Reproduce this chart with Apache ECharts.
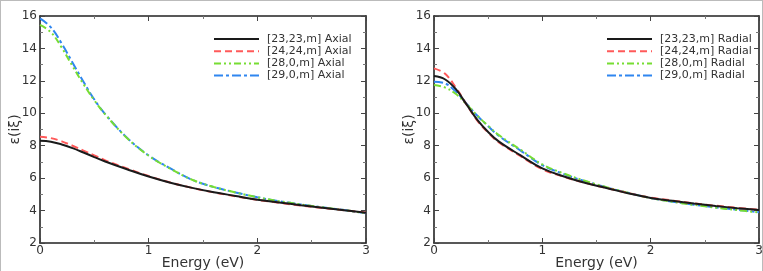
<!DOCTYPE html>
<html><head><meta charset="utf-8">
<script src="https://cdn.jsdelivr.net/npm/echarts@6/dist/echarts.min.js"></script>
<style>html,body{margin:0;padding:0;background:#fff}#c{width:763px;height:271px}#f{position:absolute;left:0;top:0;width:761px;height:271px;border:1px solid #bbb;border-bottom:none;pointer-events:none}</style>
</head><body><div id="c"></div><div id="f"></div>
<script>
const energy = [0, 0.1, 0.2, 0.3, 0.4, 0.5, 0.6, 0.8, 1.0, 1.2, 1.4, 1.6, 1.8, 2.0, 2.2, 2.4, 2.6, 2.8, 3.0];
const xTicks = [0, 1, 2, 3];
const yTicks = [2, 4, 6, 8, 10, 12, 14, 16];

const axialNames = ['[23,23,m] Axial', '[24,24,m] Axial', '[28,0,m] Axial', '[29,0,m] Axial'];
const axial23 = [8.31, 8.25, 8.08, 7.85, 7.58, 7.30, 7.03, 6.55, 6.10, 5.72, 5.40, 5.13, 4.90, 4.67, 4.50, 4.33, 4.18, 4.02, 3.87];
const axial24 = [8.55, 8.47, 8.27, 8.00, 7.70, 7.40, 7.10, 6.60, 6.13, 5.73, 5.40, 5.12, 4.88, 4.66, 4.48, 4.31, 4.16, 4.02, 3.88];
const axial28 = [15.45, 15.00, 14.05, 12.90, 11.80, 10.80, 9.93, 8.48, 7.38, 6.58, 5.90, 5.45, 5.12, 4.82, 4.58, 4.38, 4.20, 4.03, 3.83];
const axial29 = [15.85, 15.30, 14.30, 13.12, 11.95, 10.85, 9.95, 8.50, 7.40, 6.60, 5.90, 5.45, 5.12, 4.82, 4.58, 4.38, 4.20, 4.03, 3.83];

const radialNames = ['[23,23,m] Radial', '[24,24,m] Radial', '[28,0,m] Radial', '[29,0,m] Radial'];
const radial23 = [12.30, 12.10, 11.50, 10.55, 9.60, 8.85, 8.25, 7.40, 6.60, 6.10, 5.70, 5.38, 5.05, 4.78, 4.60, 4.43, 4.28, 4.15, 4.03];
const radial24 = [12.77, 12.45, 11.60, 10.55, 9.55, 8.80, 8.20, 7.35, 6.55, 6.08, 5.70, 5.38, 5.07, 4.80, 4.62, 4.45, 4.30, 4.17, 4.05];
const radial28 = [11.74, 11.60, 11.20, 10.55, 9.85, 9.22, 8.65, 7.75, 6.85, 6.28, 5.82, 5.43, 5.08, 4.77, 4.54, 4.35, 4.18, 4.03, 3.88];
const radial29 = [11.95, 11.85, 11.35, 10.60, 9.85, 9.20, 8.60, 7.70, 6.80, 6.25, 5.80, 5.42, 5.08, 4.78, 4.55, 4.36, 4.20, 4.05, 3.90];

const colors = ['#1a1a1a', '#ff5a5a', '#77dd33', '#2f86f0'];
const dashes = ['solid', [7, 4], [7, 3, 2, 3, 2, 3], [9, 3, 3, 3]];
const FONT = 'DejaVu Sans';

function pairs(ys){ return energy.map((e,i)=>[e, ys[i]]); }

const grids = [
  {left: 40, top: 16, width: 326, height: 227, outerBoundsMode: 'none', containLabel: false},
  {left: 434, top: 16, width: 325, height: 227, outerBoundsMode: 'none', containLabel: false}
];
const xAxes = [], yAxes = [];
grids.forEach((g, gi) => {
  ['bottom','top'].forEach((pos, k) => {
    xAxes.push({
      gridIndex: gi, type: 'value', position: pos, min: xTicks[0], max: xTicks[xTicks.length-1], interval: 1,
      name: k===0 ? 'Energy (eV)' : '', nameLocation: 'middle', nameGap: 13, nameMoveOverlap: false,
      nameTextStyle: {fontFamily: FONT, fontSize: 14, color: '#333'},
      axisLine: {show: true, onZero: false, lineStyle: {color: '#222', width: 1.6}},
      axisTick: {show: true, inside: true, length: 5, lineStyle: {color: '#444'}},
      minorTick: {show: true, splitNumber: 2, length: 3, lineStyle: {color: '#777'}},
      splitLine: {show: false},
      axisLabel: {show: k===0, margin: 2, fontFamily: FONT, fontSize: 12, color: '#333'}
    });
  });
  ['left','right'].forEach((pos, k) => {
    yAxes.push({
      gridIndex: gi, type: 'value', position: pos, min: yTicks[0], max: yTicks[yTicks.length-1], interval: 2,
      name: k===0 ? 'ε(iξ)' : '', nameLocation: 'middle', nameGap: 18, nameRotate: 90, nameMoveOverlap: false,
      nameTextStyle: {fontFamily: FONT, fontSize: 14, color: '#333'},
      axisLine: {show: true, onZero: false, lineStyle: {color: '#222', width: 1.6}},
      axisTick: {show: true, inside: true, length: 5, lineStyle: {color: '#444'}},
      minorTick: {show: true, splitNumber: 2, length: 3, lineStyle: {color: '#777'}},
      splitLine: {show: false},
      axisLabel: {show: k===0, margin: 3, fontFamily: FONT, fontSize: 12, color: '#333'}
    });
  });
});

const series = [];
const panels = [
  {names: axialNames, data: [axial23, axial24, axial28, axial29]},
  {names: radialNames, data: [radial23, radial24, radial28, radial29]}
];
panels.forEach((p, gi) => {
  p.data.forEach((ys, si) => {
    series.push({
      name: p.names[si], type: 'line', xAxisIndex: gi*2, yAxisIndex: gi*2,
      data: pairs(ys), smooth: 0.4, symbol: 'none', showSymbol: false, animation: false, z: 10 - si,
      lineStyle: {color: colors[si], width: 2, type: dashes[si]},
      itemStyle: {color: colors[si]}
    });
  });
});

function legend(names, left){
  return {
    data: names, left: left, top: 33, orient: 'vertical', itemWidth: 45, itemHeight: 12, itemGap: 0.2,
    padding: 0, selectedMode: false,
    itemStyle: {opacity: 0},
    textStyle: {fontFamily: FONT, fontSize: 11, color: '#333', lineHeight: 12, padding: [0,0,0,3]}
  };
}

const chart = echarts.init(document.getElementById('c'), null, {renderer: 'canvas'});
chart.setOption({
  backgroundColor: '#fff',
  animation: false,
  grid: grids,
  xAxis: xAxes,
  yAxis: yAxes,
  legend: [legend(axialNames, 213), legend(radialNames, 606)],
  series: series
});
</script>
</body></html>
